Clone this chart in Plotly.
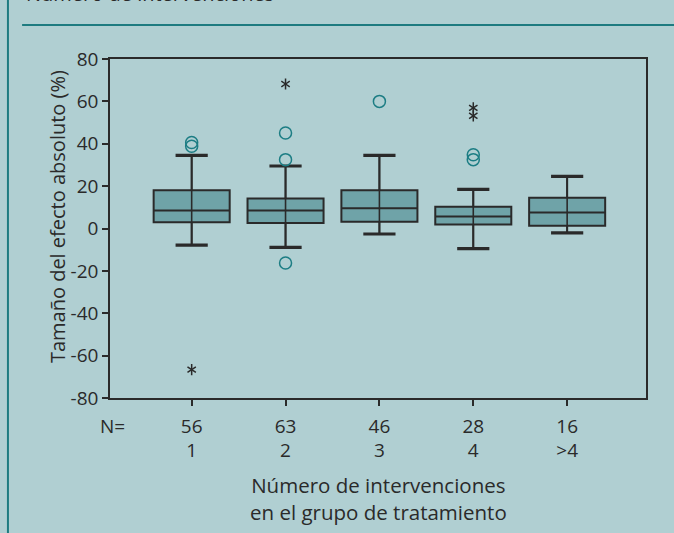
import plotly.graph_objects as go

# Groups: number of interventions in the treatment group
categories = ["1", "2", "3", "4", ">4"]
n_studies = [56, 63, 46, 28, 16]

# Box statistics (absolute effect size, %)
q1 = [2.9, 2.6, 3.2, 1.9, 1.3]
median = [8.5, 8.5, 9.5, 5.7, 7.6]
q3 = [18.0, 14.2, 18.0, 10.3, 14.5]
lower_fence = [-7.8, -8.9, -2.6, -9.5, -2.1]
upper_fence = [34.5, 29.5, 34.5, 18.5, 24.6]

# Outliers (circles) and extreme values (asterisks)
outlier_x = ["1", "1", "2", "2", "2", "3", "4", "4"]
outlier_y = [40.6, 38.8, 45.1, 32.5, -16.3, 60.0, 34.8, 32.5]
extreme_x = ["1", "2", "4", "4"]
extreme_y = [-66.6, 68.2, 56.9, 53.2]

y_ticks = [80, 60, 40, 20, 0, -20, -40, -60, -80]

BG = "#B0CFD2"
BOX_FILL = "#6FA3A8"
INK = "#2A2A2A"
TEAL = "#1C7D84"
FONT = "Open Sans"

fig = go.Figure()

fig.add_trace(go.Box(
    x=categories, q1=q1, median=median, q3=q3,
    lowerfence=lower_fence, upperfence=upper_fence,
    width=0.81, whiskerwidth=0, boxpoints=False,
    fillcolor=BOX_FILL, line=dict(color=INK, width=2),
    hoverinfo="skip", showlegend=False,
))

# whisker drawn straight through each box
wx, wy = [], []
for c, lo, hi in zip(categories, lower_fence, upper_fence):
    wx += [c, c, None]
    wy += [lo, hi, None]
fig.add_trace(go.Scatter(
    x=wx, y=wy, mode="lines", line=dict(color=INK, width=1.6),
    connectgaps=False, hoverinfo="skip", showlegend=False,
))

# whisker caps
fig.add_trace(go.Scatter(
    x=categories + categories, y=lower_fence + upper_fence, mode="markers",
    marker=dict(symbol="line-ew-open", size=23, color=INK,
                line=dict(color=INK, width=3.2)),
    hoverinfo="skip", showlegend=False,
))

fig.add_trace(go.Scatter(
    x=outlier_x, y=outlier_y, mode="markers",
    marker=dict(symbol="circle-open", size=12, color=TEAL, line=dict(color=TEAL, width=1.5)),
    hoverinfo="skip", showlegend=False,
))

# six-armed asterisk built from two Y symbols
for sym in ("y-up-open", "y-down-open"):
    fig.add_trace(go.Scatter(
        x=extreme_x, y=extreme_y, mode="markers",
        marker=dict(symbol=sym, size=7, color=INK, line=dict(color=INK, width=1.5)),
        hoverinfo="skip", showlegend=False,
    ))

fig.update_layout(
    width=674, height=533,
    margin=dict(l=110, r=28, t=59, b=135),
    paper_bgcolor=BG, plot_bgcolor=BG,
    font=dict(family=FONT, size=19, color=INK),
    xaxis=dict(
        type="category", categoryorder="array", categoryarray=categories,
        range=[-0.87, 4.84],
        tickvals=categories,
        ticktext=[f"{n}<br>{c}" for n, c in zip(n_studies, categories)],
        ticks="outside", ticklen=6, tickwidth=1.5, tickcolor=INK,
        ticklabelstandoff=4,
        showline=True, linecolor=INK, linewidth=1.5, mirror=True,
        showgrid=False, zeroline=False,
        tickfont=dict(size=19),
    ),
    yaxis=dict(
        range=[-80, 80], tickvals=y_ticks, ticktext=[str(v) for v in y_ticks],
        ticks="outside", ticklen=6, tickwidth=1.5, tickcolor=INK,
        showline=True, linecolor=INK, linewidth=1.5, mirror=True,
        showgrid=False, zeroline=False,
        tickfont=dict(size=19),
    ),
    shapes=[
        dict(type="line", xref="paper", yref="paper",
             x0=-0.164, x1=1.06, y0=1.1003, y1=1.1003,
             line=dict(color="#1E7B80", width=2)),
        dict(type="line", xref="paper", yref="paper",
             x0=-0.1904, x1=-0.1904, y0=-0.5, y1=1.3,
             line=dict(color="#1E7B80", width=2)),
    ],
    annotations=[
        dict(text="Número de intervenciones", xref="paper", yref="paper",
             x=-0.161, y=1.148, xanchor="left", yanchor="bottom",
             showarrow=False, font=dict(size=20)),
        dict(text="N=", xref="paper", yref="paper", x=0.005, y=-0.084,
             xanchor="center", yanchor="middle", showarrow=False),
        dict(text="Tamaño del efecto absoluto (%)", xref="paper", yref="paper",
             x=-0.098, y=0.535, textangle=-90, xanchor="center", yanchor="middle",
             showarrow=False, font=dict(size=20)),
        dict(text="Número de intervenciones<br>en el grupo de tratamiento",
             xref="paper", yref="paper", x=0.5, y=-0.295,
             xanchor="center", yanchor="middle", showarrow=False,
             font=dict(size=20.5)),
    ],
)

fig.write_html("out.html")
